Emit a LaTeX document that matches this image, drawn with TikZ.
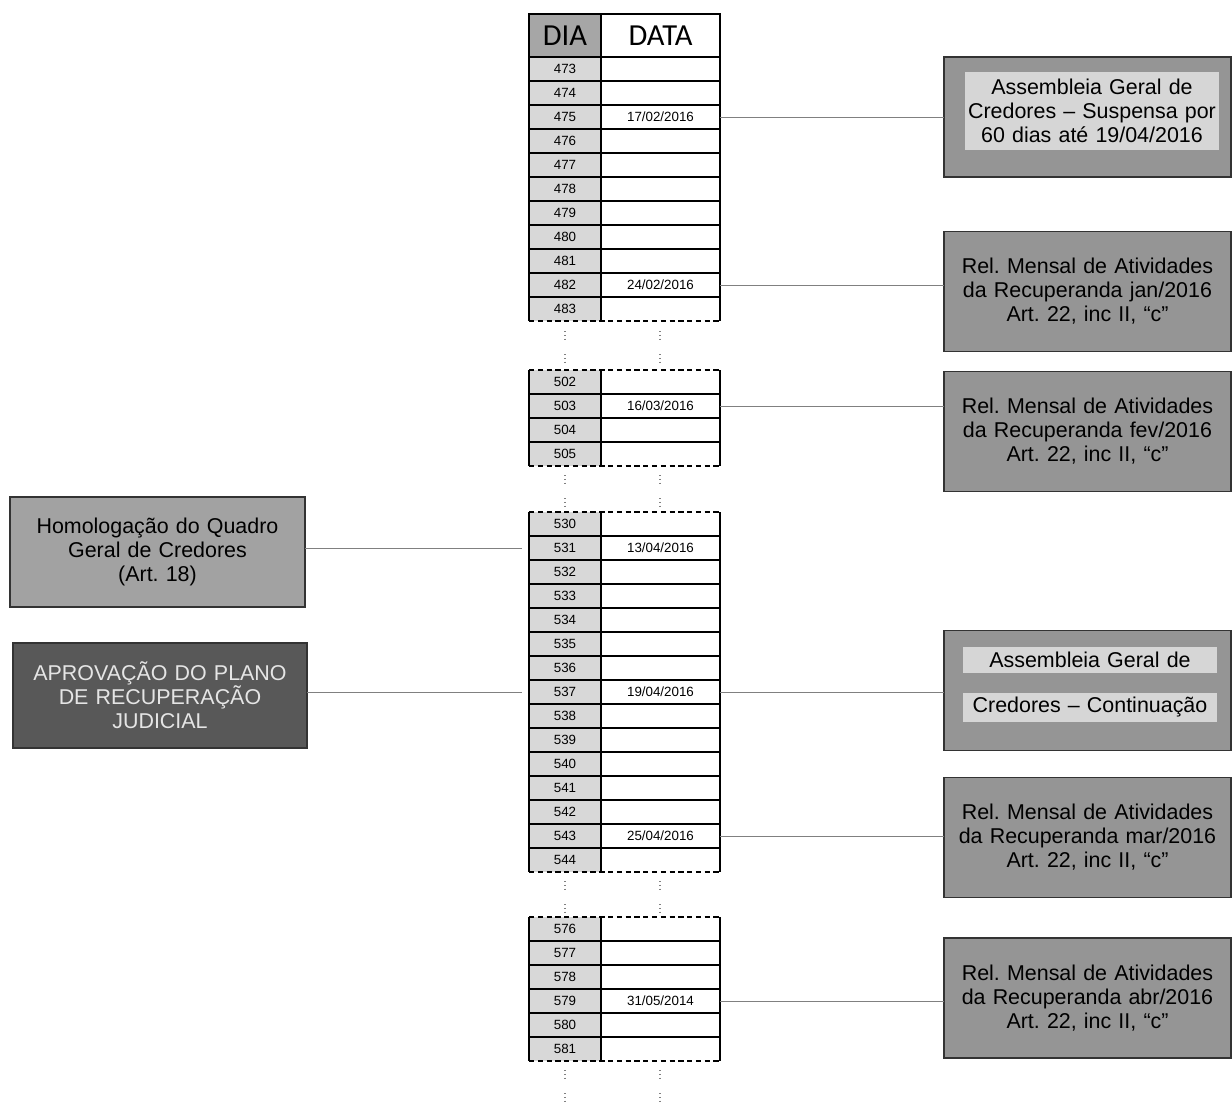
\documentclass[tikz,border=0pt]{standalone}
\usepackage{fontspec}
\setmainfont{Liberation Sans}
\newfontfamily\hdfont{Carlito}
\frenchspacing
\definecolor{diafill}{HTML}{D8D8D8}
\definecolor{hdfill}{HTML}{A6A6A6}
\definecolor{evfill}{HTML}{959595}
\definecolor{evlight}{HTML}{D6D6D6}
\definecolor{hqfill}{HTML}{A2A2A2}
\definecolor{apfill}{HTML}{585858}
\definecolor{linkgray}{HTML}{808080}
\begin{document}
\begin{tikzpicture}[x=.02cm,y=-.02cm,line width=.75pt,
  every node/.style={inner sep=0pt,outer sep=0pt},
  diacell/.style={fill=diafill,minimum width=1.44cm,minimum height=.48cm,font=\fontsize{7.6}{9}\selectfont},
  datacell/.style={minimum width=2.38cm,minimum height=.48cm},
  datetxt/.style={font=\fontsize{7.6}{9}\selectfont},
  hdtxt/.style={minimum height=.86cm,font=\hdfont\fontsize{17.4}{19}\selectfont},
  evbox/.style={draw=black!80,fill=evfill,minimum width=5.74cm,minimum height=2.4cm,
    text width=5.6cm,align=center,font=\fontsize{12.2}{13.66}\selectfont},
  inbox/.style={fill=evlight,text width=5.1cm,align=center,font=\fontsize{12.2}{13.66}\selectfont},
  link/.style={draw=linkgray,line width=.55pt},
  segdash/.style={dash pattern=on 3pt off 2pt},
  gapdots/.style={draw=gray,line width=.8pt,dash pattern=on .6pt off 1.6pt}]
  \path[use as bounding box] (0,0) rectangle (1232,1102);
  % table segments: first/last day/top
  \foreach \first/\last/\top in {473/483/57,502/505/370,530/544/512,576/581/917}{
    \pgfmathtruncatemacro\bot{\top+24*(\last-\first+1)}
    \pgfmathtruncatemacro\nr{\last-\first}
    \foreach \n [evaluate=\n as \y using {\top+24*(\n-\first)+12}] in {\first,...,\last}{
      \node[diacell] (n\n) at (565,\y) {\n};
      \node[datacell] (d\n) at (660.5,\y) {};
    }
    \foreach \k in {1,...,\nr}
      \draw (529,{\top+24*\k}) -- (720,{\top+24*\k});
    \draw (529,\top) -- (529,\bot) (601,\top) -- (601,\bot) (720,\top) -- (720,\bot);
    \draw[segdash] (529,\top) -- (720,\top) (529,\bot) -- (720,\bot);
  }
  % header
  \node[hdtxt,fill=hdfill,minimum width=1.44cm] (hdia) at (565,35.5) {DIA};
  \node[hdtxt,minimum width=2.38cm] (hdata) at (660.5,35.5) {DATA};
  \draw (529,14) rectangle (720,57) (601,14) -- (601,57);
  % dates
  \node[datetxt] (t475) at (d475) {17/02/2016};
  \node[datetxt] (t482) at (d482) {24/02/2016};
  \node[datetxt] (t503) at (d503) {16/03/2016};
  \node[datetxt] (t531) at (d531) {13/04/2016};
  \node[datetxt] (t537) at (d537) {19/04/2016};
  \node[datetxt] (t543) at (d543) {25/04/2016};
  \node[datetxt] (t579) at (d579) {31/05/2014};
  % gaps
  \foreach \y in {331,354,475,498,881,904,1070,1093}
    \draw[gapdots] (565,\y) -- (565,\y+8) (660,\y) -- (660,\y+8);
  % right side
  \node[evbox] (ag1) at (1087.5,117) {};
  \node[inbox,minimum height=1.56cm] (ag1t) at (1092,111)
    {Assembleia Geral de\\Credores – Suspensa por\\60 dias até 19/04/2016};
  \node[evbox] (rm1) at (1087.5,291.5)
    {Rel. Mensal de Atividades\\da Recuperanda jan/2016\\Art. 22, inc II, “c”};
  \node[evbox] (rm2) at (1087.5,431.5)
    {Rel. Mensal de Atividades\\da Recuperanda fev/2016\\Art. 22, inc II, “c”};
  \node[evbox] (ag2) at (1087.5,690.5) {};
  \node[inbox,minimum height=.52cm] (ag2a) at (1090,660) {Assembleia Geral de};
  \node[inbox,minimum height=.58cm] (ag2b) at (1090,707.5) {Credores – Continuação};
  \node[evbox] (rm3) at (1087.5,837.5)
    {Rel. Mensal de Atividades\\da Recuperanda mar/2016\\Art. 22, inc II, “c”};
  \node[evbox] (rm4) at (1087.5,998)
    {Rel. Mensal de Atividades\\da Recuperanda abr/2016\\Art. 22, inc II, “c”};
  % left side
  \node[evbox,fill=hqfill,minimum width=5.9cm,minimum height=2.2cm] (hq) at (157.5,552)
    {Homologação do Quadro\\Geral de Credores\\(Art. 18)};
  \node[evbox,fill=apfill,text=black!10,minimum width=5.88cm,minimum height=2.1cm] (ap) at (160,695.5)
    {APROVAÇÃO DO PLANO\\DE RECUPERAÇÃO\\JUDICIAL};
  % links
  \draw[link] (d475.east) -- (d475.east -| ag1.west);
  \draw[link] (d482.east) -- (d482.east -| rm1.west);
  \draw[link] (d503.east) -- (d503.east -| rm2.west);
  \draw[link] (d537.east) -- (d537.east -| ag2.west);
  \draw[link] (d543.east) -- (d543.east -| rm3.west);
  \draw[link] (d579.east) -- (d579.east -| rm4.west);
  \draw[link,shorten >=4pt] (n531.west -| hq.east) -- (n531.west);
  \draw[link,shorten >=4pt] (n537.west -| ap.east) -- (n537.west);
\end{tikzpicture}
\end{document}
